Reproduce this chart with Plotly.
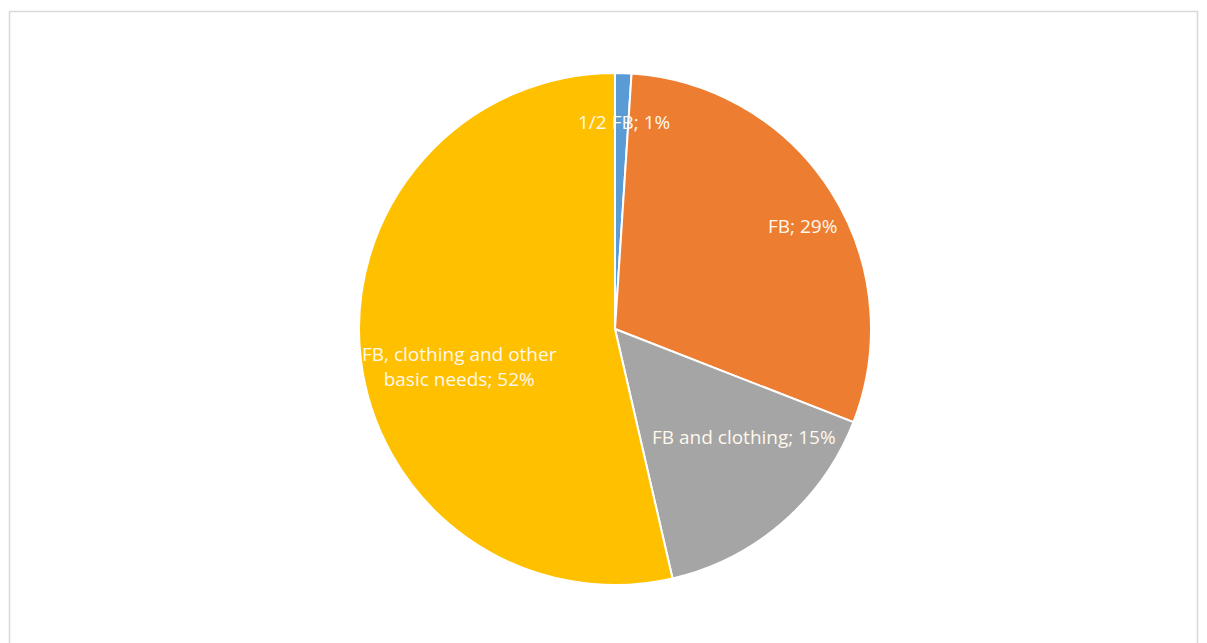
import plotly.graph_objects as go

labels = ["1/2 FB", "FB", "FB and clothing", "FB, clothing and other basic needs"]
values = [1, 29, 15, 52]
colors = ["#5B9BD5", "#ED7D31", "#A5A5A5", "#FFC000"]
label_lines = ["1/2 FB", "FB", "FB and clothing", "FB, clothing and other<br>basic needs"]

W, H = 1207, 643
OFF = 8  # page body margin in the browser
cx, cy, r = 615 - OFF, 329 - OFF, 256

fig = go.Figure(go.Pie(
    labels=labels, values=values, sort=False, direction="clockwise", rotation=0,
    marker=dict(colors=colors, line=dict(color="white", width=2)),
    textinfo="none", hoverinfo="label+value", showlegend=False,
    domain=dict(x=[(cx - r) / W, (cx + r) / W], y=[1 - (cy + r) / H, 1 - (cy - r) / H]),
))

label_pos = [(624, 122), (802, 226), (744, 437), (459, 366)]
for i, (px, py) in enumerate(label_pos):
    fig.add_annotation(
        x=(px - OFF) / W, y=1 - (py - OFF) / H, xref="paper", yref="paper",
        xanchor="center", yanchor="middle",
        text=f"{label_lines[i]}; {values[i]}%", showarrow=False,
        font=dict(family="Open Sans", size=19, color="#FFF8EC"), align="center",
    )

fig.add_shape(type="rect", xref="paper", yref="paper",
              x0=(9.5 - OFF) / W, x1=(1197.5 - OFF) / W, y0=-0.05, y1=1 - (11.5 - OFF) / H,
              line=dict(color="#D9D9D9", width=1.5), fillcolor="rgba(0,0,0,0)")

fig.update_layout(width=W, height=H, margin=dict(l=0, r=0, t=0, b=0),
                  paper_bgcolor="white", plot_bgcolor="white")
fig.write_html("out.html")
